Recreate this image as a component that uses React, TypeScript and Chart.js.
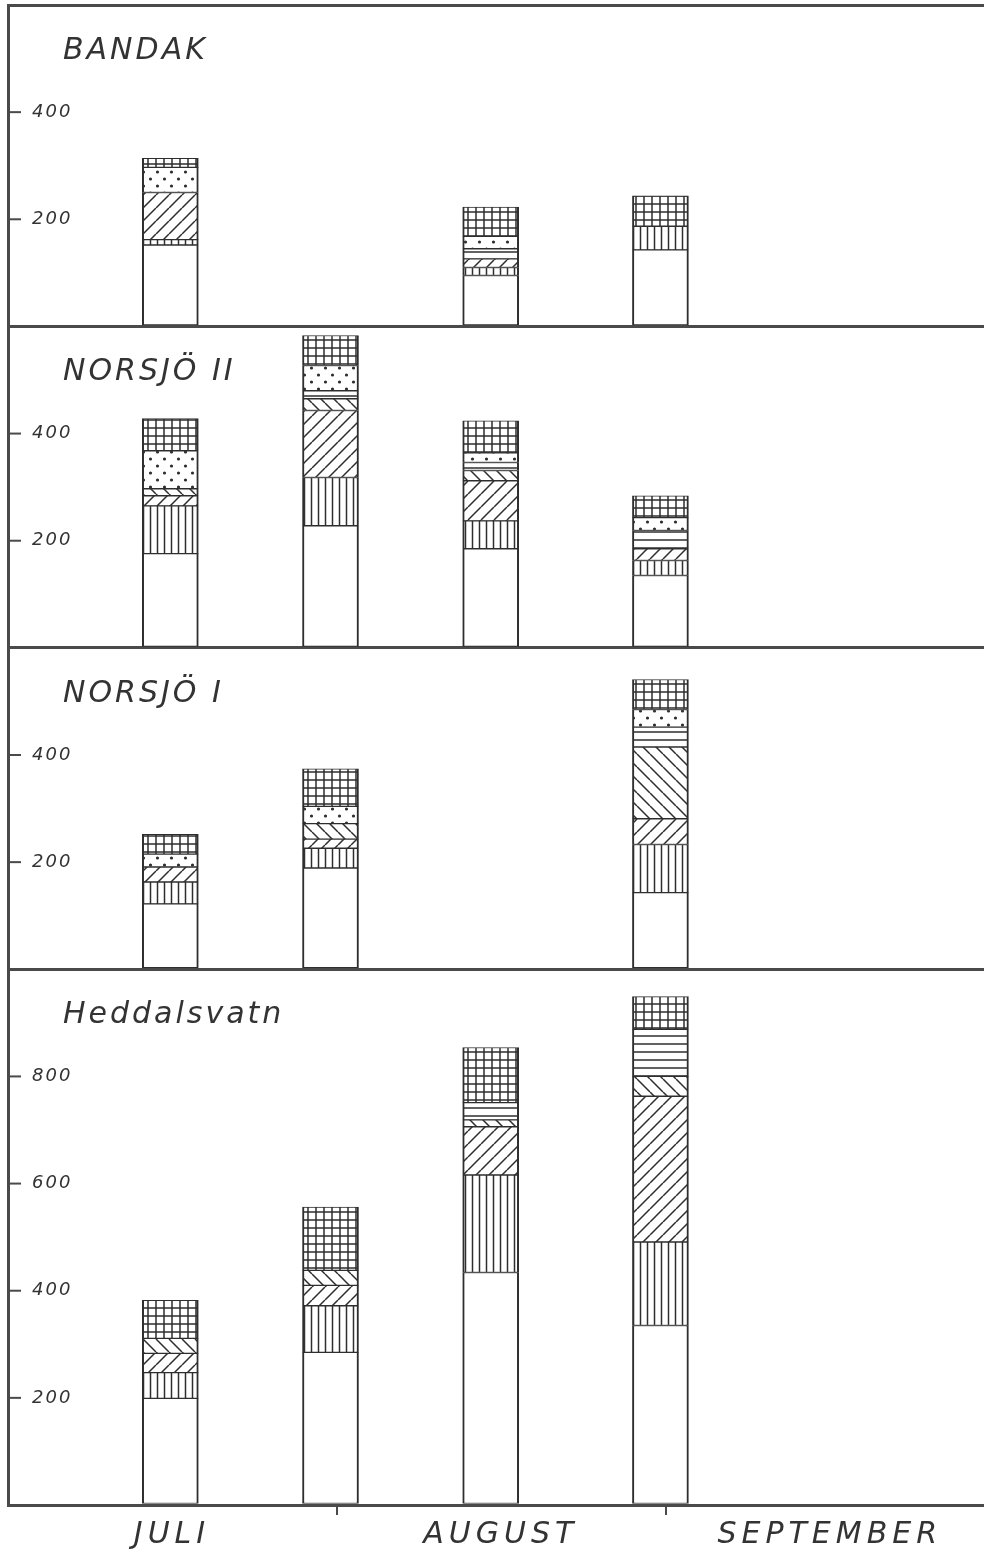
import React, { useEffect, useRef } from 'react';
import { Chart, registerables } from 'chart.js';

Chart.register(...registerables);

// ---------------- data ----------------
const PANEL_TITLES = ['BANDAK', 'NORSJÖ II', 'NORSJÖ I', 'Heddalsvatn'];
const PANEL_IDS = ['yBandak', 'yNorsjo2', 'yNorsjo1', 'yHeddal'];
const PANEL_MAX = [600, 600, 600, 1000];
const Y_STEP = 200;

// sampling dates, in days after 1 July
const SAMPLE_DAYS = [15.3, 30.4, 45.5, 61.5];

const MONTH_LABELS = ['JULI', 'AUGUST', 'SEPTEMBER'];
const MONTH_STARTS = [0, 31, 62, 92];

// stacking order from the bottom of each bar
const PATTERNS = ['blank', 'vertical', 'slash', 'backslash', 'horizontal', 'dots', 'grid'];

// rows = pattern (bottom → top), columns = the four sampling dates
const BANDAK = [
  [152, null, 95, 143],
  [10, null, 15, 44],
  [88, null, 16, 0],
  [0, null, 0, 0],
  [0, null, 19, 0],
  [47, null, 23, 0],
  [17, null, 55, 57],
];

const NORSJO_II = [
  [176, 228, 185, 135],
  [89, 90, 52, 28],
  [19, 125, 75, 22],
  [13, 22, 19, 0],
  [0, 15, 15, 34],
  [71, 47, 18, 24],
  [60, 56, 60, 41],
];

const NORSJO_I = [
  [122, 189, null, 143],
  [41, 37, null, 90],
  [28, 17, null, 48],
  [0, 29, null, 134],
  [0, 0, null, 37],
  [24, 32, null, 33],
  [37, 70, null, 56],
];

const HEDDALSVATN = [
  [199, 285, 434, 335],
  [48, 87, 182, 156],
  [36, 38, 90, 272],
  [28, 28, 13, 37],
  [0, 0, 32, 88],
  [0, 0, 0, 0],
  [71, 118, 103, 61],
];

const PANEL_DATA = [BANDAK, NORSJO_II, NORSJO_I, HEDDALSVATN];

// ---------------- styling ----------------
const INK = '#2e2e2e';
const FRAME = '#4a4a4a';
const FONT = 'DejaVu Sans';

function makePattern(kind: string): CanvasPattern | string {
  if (kind === 'blank') return '#ffffff';
  const s =
    kind === 'slash' || kind === 'backslash' ? 13 : kind === 'dots' ? 14 : kind === 'vertical' ? 7 : 8;
  const c = document.createElement('canvas');
  c.width = s;
  c.height = s;
  const g = c.getContext('2d') as CanvasRenderingContext2D;
  g.fillStyle = '#ffffff';
  g.fillRect(0, 0, s, s);
  g.strokeStyle = INK;
  g.fillStyle = INK;
  g.lineWidth = 1.5;
  g.beginPath();
  if (kind === 'vertical') {
    g.moveTo(s / 2, 0);
    g.lineTo(s / 2, s);
  } else if (kind === 'horizontal') {
    g.moveTo(0, s / 2);
    g.lineTo(s, s / 2);
  } else if (kind === 'grid') {
    g.moveTo(s / 2, 0);
    g.lineTo(s / 2, s);
    g.moveTo(0, s / 2);
    g.lineTo(s, s / 2);
  } else if (kind === 'slash') {
    for (let k = -1; k <= 1; k++) {
      g.moveTo(k * s, s);
      g.lineTo(k * s + s, 0);
    }
  } else if (kind === 'backslash') {
    for (let k = -1; k <= 1; k++) {
      g.moveTo(k * s, 0);
      g.lineTo(k * s + s, s);
    }
  }
  g.stroke();
  if (kind === 'dots') {
    g.beginPath();
    g.arc(3.5, 4, 1.6, 0, Math.PI * 2);
    g.arc(10.5, 11, 1.6, 0, Math.PI * 2);
    g.fill();
  }
  return (g.createPattern(c, 'repeat') as CanvasPattern) || '#ffffff';
}

const panelDecor = {
  id: 'panelDecor',
  beforeDraw(chart: any) {
    chart.ctx.letterSpacing = '2px';
  },
  afterDatasetsDraw(chart: any) {
    // month labels (drawn in a later layer) get the wide lettering
    chart.ctx.letterSpacing = '5px';
  },
  afterDraw(chart: any) {
    const ctx = chart.ctx as CanvasRenderingContext2D;
    const left = chart.chartArea.left;
    ctx.save();
    // inner tick marks on each panel's value axis
    ctx.strokeStyle = FRAME;
    ctx.lineWidth = 2;
    PANEL_IDS.forEach((id, i) => {
      const scale = chart.scales[id];
      scale.ticks.forEach((t: any) => {
        if (t.value === 0 || t.value === PANEL_MAX[i]) return;
        const y = scale.getPixelForValue(t.value);
        ctx.beginPath();
        ctx.moveTo(left, y);
        ctx.lineTo(left + 13, y);
        ctx.stroke();
      });
    });
    // panel titles
    ctx.fillStyle = '#333';
    ctx.font = `italic 30px "${FONT}"`;
    (ctx as any).letterSpacing = '3px';
    ctx.textAlign = 'left';
    ctx.textBaseline = 'alphabetic';
    PANEL_IDS.forEach((id, i) => {
      const scale = chart.scales[id];
      ctx.fillText(PANEL_TITLES[i], left + 55, scale.top + 54);
    });
    ctx.restore();
    (ctx as any).letterSpacing = '0px';
  },
};

export default function App() {
  const ref = useRef<HTMLCanvasElement | null>(null);

  useEffect(() => {
    if (!ref.current) return;
    const patterns = PATTERNS.map(makePattern);

    const datasets: any[] = [];
    PANEL_IDS.forEach((id, p) => {
      PANEL_DATA[p].forEach((row, k) => {
        datasets.push({
          type: 'bar',
          label: `${PANEL_TITLES[p]} ${PATTERNS[k]}`,
          data: SAMPLE_DAYS.map((d, i) => ({ x: d, y: row[i] })).filter((pt) => pt.y !== null),
          xAxisID: 'x',
          yAxisID: id,
          stack: 'samples',
          backgroundColor: patterns[k],
          borderColor: INK,
          borderWidth: { top: 1, bottom: 1, left: 2, right: 2 },
          borderSkipped: false,
          barThickness: 56,
        });
      });
    });

    const scales: any = {
      x: {
        type: 'linear',
        position: 'bottom',
        offset: false,
        min: MONTH_STARTS[0],
        max: MONTH_STARTS[MONTH_STARTS.length - 1],
        stacked: true,
        afterBuildTicks: (s: any) => {
          s.ticks = MONTH_STARTS.map((v) => ({ value: v }));
        },
        afterFit: (s: any) => {
          s.paddingLeft = 0;
          s.paddingRight = 0;
        },
        ticks: {
          z: 1,
          autoSkip: false,
          maxRotation: 0,
          labelOffset: 164,
          padding: 2,
          color: '#333',
          font: { family: FONT, size: 30, style: 'italic' },
          callback: (v: number) => {
            const i = MONTH_STARTS.indexOf(v);
            return i >= 0 && i < MONTH_LABELS.length ? MONTH_LABELS[i] : '';
          },
        },
        grid: {
          offset: false,
          drawOnChartArea: false,
          drawTicks: true,
          tickLength: 10,
          lineWidth: 2,
          color: (c: any) =>
            c.tick && c.tick.value > 0 && c.tick.value < MONTH_STARTS[MONTH_STARTS.length - 1]
              ? FRAME
              : 'rgba(0,0,0,0)',
        },
        border: { display: true, color: FRAME, width: 3 },
      },
    };

    // higher weight = placed higher in the stack of value axes
    [3, 2, 1, 0].forEach((p) => {
      const max = PANEL_MAX[p];
      scales[PANEL_IDS[p]] = {
        type: 'linear',
        position: 'left',
        stack: 'lakes',
        stackWeight: max,
        weight: 4 - p,
        min: 0,
        max,
        stacked: true,
        afterFit: (s: any) => {
          s.width = 0;
          s.paddingTop = 0;
          s.paddingBottom = 0;
        },
        ticks: {
          stepSize: Y_STEP,
          mirror: true,
          padding: 24,
          color: '#333',
          font: { family: FONT, size: 18, style: 'italic' },
          callback: (v: number) => (v === 0 || v === max ? '' : String(v)),
        },
        grid: {
          drawTicks: false,
          lineWidth: 3,
          color: (c: any) =>
            c.tick && (c.tick.value === 0 || (p === 0 && c.tick.value === max)) ? FRAME : 'rgba(0,0,0,0)',
        },
        border: { display: true, color: FRAME, width: 3 },
      };
    });

    const chart = new Chart(ref.current, {
      type: 'bar',
      data: { datasets },
      options: {
        responsive: false,
        animation: false,
        devicePixelRatio: 1,
        events: [],
        layout: { padding: { top: 5, left: 8, right: 0, bottom: 0 } },
        plugins: { legend: { display: false }, tooltip: { enabled: false }, title: { display: false } },
        scales,
      } as any,
      plugins: [panelDecor],
    });
    return () => chart.destroy();
  }, []);

  return (
    <div style={{ position: 'absolute', left: 0, top: 0, background: '#fff' }}>
      <canvas ref={ref} width={984} height={1555} style={{ display: 'block' }} />
    </div>
  );
}
